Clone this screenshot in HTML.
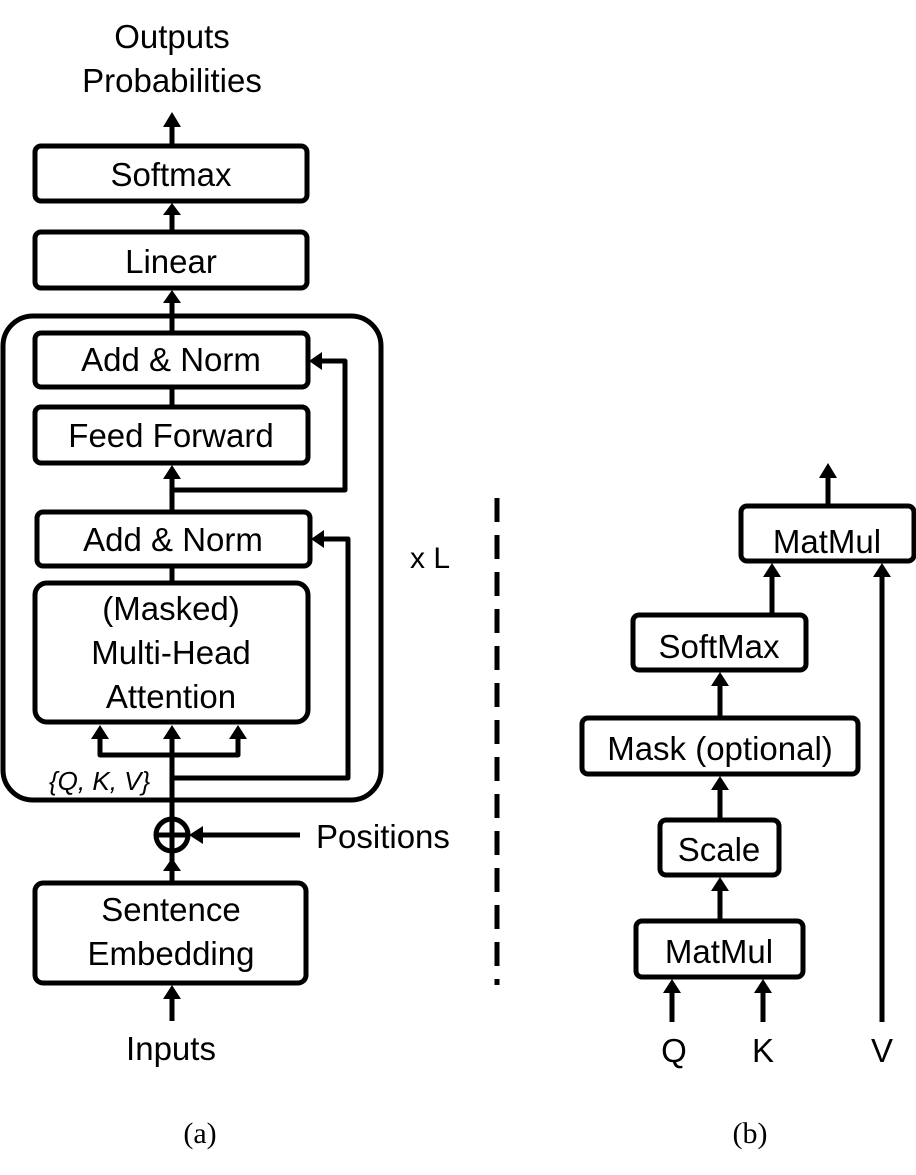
<!DOCTYPE html>
<html><head><meta charset="utf-8"><style>
html,body{margin:0;padding:0;background:#fff}
svg{display:block}
text{font-family:"Liberation Sans",sans-serif;font-size:33px;fill:#000}
</style></head><body>
<svg width="916" height="1175" viewBox="0 0 916 1175" xmlns="http://www.w3.org/2000/svg">
<g fill="none" stroke="#000" stroke-width="5" stroke-linejoin="round">
<rect x="35" y="146" width="272" height="55" rx="6"/>
<rect x="35" y="232" width="272" height="56" rx="6"/>
<rect x="3" y="316" width="378" height="484" rx="30"/>
<rect x="35" y="333" width="273" height="54" rx="6"/>
<rect x="35" y="407" width="273" height="56" rx="6"/>
<rect x="37" y="512" width="273" height="54" rx="6"/>
<rect x="35" y="583" width="273" height="139" rx="12"/>
<rect x="35" y="883" width="271" height="100" rx="8"/>
<circle cx="172" cy="835" r="16"/>
<line x1="172" y1="126" x2="172" y2="146"/>
<line x1="172" y1="214" x2="172" y2="232"/>
<line x1="172" y1="300" x2="172" y2="333"/>
<line x1="172" y1="387" x2="172" y2="407"/>
<line x1="172" y1="476" x2="172" y2="512"/>
<line x1="172" y1="566" x2="172" y2="583"/>
<line x1="172" y1="736" x2="172" y2="883"/>
<line x1="156" y1="835" x2="188" y2="835"/>
<polyline points="100,736 100,755 238,755 238,736"/>
<polyline points="172,778 348,778 348,539 323,539"/>
<polyline points="172,490 345,490 345,361 321,361"/>
<line x1="200" y1="835" x2="300" y2="835"/>
<line x1="172" y1="996" x2="172" y2="1021"/>
<line x1="497" y1="498" x2="497" y2="985" stroke-dasharray="24,13"/>
<rect x="741" y="506" width="173" height="55" rx="6"/>
<rect x="633" y="615" width="173" height="55" rx="6"/>
<rect x="582" y="718" width="276" height="56" rx="6"/>
<rect x="660" y="820" width="119" height="55" rx="6"/>
<rect x="636" y="921" width="167" height="56" rx="6"/>
<line x1="828" y1="476" x2="828" y2="506"/>
<line x1="772" y1="574" x2="772" y2="615"/>
<line x1="720" y1="683" x2="720" y2="718"/>
<line x1="720" y1="787" x2="720" y2="820"/>
<line x1="720" y1="888" x2="720" y2="921"/>
<line x1="672" y1="990" x2="672" y2="1022"/>
<line x1="763" y1="990" x2="763" y2="1022"/>
<line x1="882" y1="574" x2="882" y2="1022"/>
</g>
<g fill="#000">
<polygon points="163,127 181,127 172,112"/>
<polygon points="163,215 181,215 172,203"/>
<polygon points="163,303 181,303 172,290"/>
<polygon points="163,479 181,479 172,465"/>
<polygon points="91,739 109,739 100,725"/>
<polygon points="163,739 181,739 172,725"/>
<polygon points="229,739 247,739 238,725"/>
<polygon points="163,871 181,871 172,858"/>
<polygon points="324,530 324,548 311,539"/>
<polygon points="322,352 322,370 309,361"/>
<polygon points="203,826 203,844 189,835"/>
<polygon points="163,999 181,999 172,985"/>
<polygon points="819,478 837,478 828,463"/>
<polygon points="763,577 781,577 772,563"/>
<polygon points="711,686 729,686 720,672"/>
<polygon points="711,790 729,790 720,776"/>
<polygon points="711,891 729,891 720,877"/>
<polygon points="663,993 681,993 672,979"/>
<polygon points="754,993 772,993 763,979"/>
<polygon points="873,577 891,577 882,563"/>
</g>
<g text-anchor="middle">
<text x="172" y="48">Outputs</text>
<text x="172" y="92">Probabilities</text>
<text x="171" y="186">Softmax</text>
<text x="171" y="273">Linear</text>
<text x="171" y="371">Add &amp; Norm</text>
<text x="171" y="447">Feed Forward</text>
<text x="173" y="551">Add &amp; Norm</text>
<text x="171" y="620">(Masked)</text>
<text x="171" y="664">Multi-Head</text>
<text x="171" y="708">Attention</text>
<text x="171" y="921">Sentence</text>
<text x="171" y="965">Embedding</text>
<text x="171" y="1060">Inputs</text>
<text x="827" y="553">MatMul</text>
<text x="719" y="658">SoftMax</text>
<text x="720" y="760">Mask (optional)</text>
<text x="719" y="861">Scale</text>
<text x="719" y="963">MatMul</text>
<text x="674" y="1062">Q</text>
<text x="763" y="1062">K</text>
<text x="882" y="1062">V</text>
<text x="200" y="1143" style="font-family:'Liberation Serif',serif;font-size:30px">(a)</text>
<text x="750" y="1143" style="font-family:'Liberation Serif',serif;font-size:30px">(b)</text>
</g>
<text x="316" y="848">Positions</text>
<text x="410" y="568" style="font-size:30px">x L</text>
<text x="49" y="790" style="font-size:26px;font-style:italic">{Q, K, V}</text>
</svg>
</body></html>
